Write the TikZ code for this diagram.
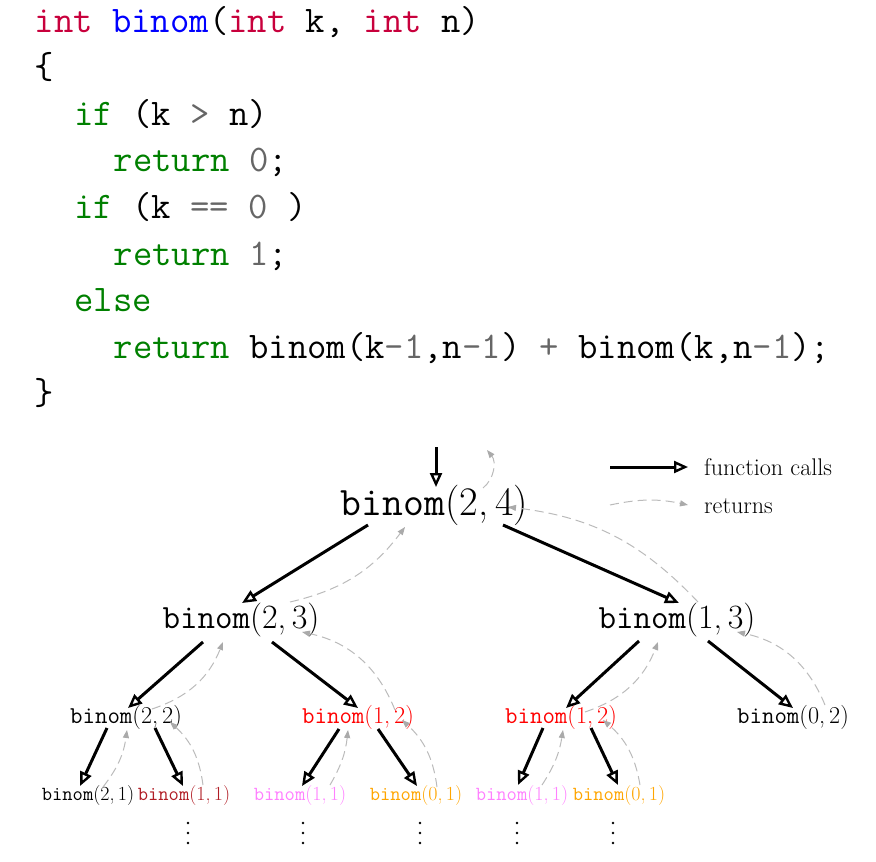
\documentclass[tikz,border=0pt]{standalone}
\usetikzlibrary{arrows.meta,calc}
\definecolor{kwint}{HTML}{C8003C}
\definecolor{kwfun}{HTML}{0000FF}
\definecolor{kwgreen}{HTML}{008000}
\definecolor{numgray}{HTML}{666666}
\definecolor{rdark}{HTML}{B01C24}
\definecolor{rred}{HTML}{FF0000}
\definecolor{rpink}{HTML}{FF80FF}
\definecolor{rorange}{HTML}{FFA500}
\definecolor{retgray}{HTML}{BBBBBB}
\definecolor{rettip}{HTML}{AAAAAA}
\newcommand\bn[2]{\texttt{binom}\textrm{(#1,\,#2)}}
\newcommand\gr[1]{\textcolor{numgray}{#1}}
\newcommand\kw[1]{\textcolor{kwgreen}{#1}}
\newcommand\ki[1]{\textcolor{kwint}{#1}}
\begin{document}
\begin{tikzpicture}[x=1pt,y=-1pt,
  code/.style={anchor=base west, inner sep=0pt, font=\fontsize{37.6}{45}\selectfont\ttfamily},
  lzero/.style={anchor=base, inner sep=0pt, font=\fontsize{40.5}{48}\selectfont},
  lone/.style={anchor=base, inner sep=0pt, font=\fontsize{34}{40}\selectfont},
  ltwo/.style={anchor=base, inner sep=0pt, font=\fontsize{24.2}{29}\selectfont},
  lthree/.style={anchor=base, inner sep=0pt, font=\fontsize{20}{24}\selectfont},
  legend/.style={anchor=base west, inner sep=0pt, font=\fontsize{24.1}{29}\selectfont},
  call/.style={line width=3pt, -{Triangle[open, length=14pt, width=12pt, line width=2.4pt]}},
  ret/.style={retgray, line width=1pt, dash pattern=on 9pt off 5pt, -{Triangle[length=8pt, width=6pt, fill=rettip, color=rettip]}},
  vdot/.style={fill=black}
]
\useasboundingbox (0,0) rectangle (876,862);

% code
\node[code] (c1) at (34.6,32) {\ki{int} \textcolor{kwfun}{binom}(\ki{int} k, \ki{int} n)};
\node[code] (c2) at (34.6,78.6) {\{};
\node[code] (c3) at (74.1,125.2) {\kw{if} (k \gr{>} n)};
\node[code] (c4) at (113.6,171.8) {\kw{return} \gr{0};};
\node[code] (c5) at (74.1,218.4) {\kw{if} (k \gr{==} \gr{0} )};
\node[code] (c6) at (113.6,265) {\kw{return} \gr{1};};
\node[code] (c7) at (74.1,311.6) {\kw{else}};
\node[code] (c8) at (113.6,358.2) {\kw{return} binom(k\gr{-1},n\gr{-1}) \gr{+} binom(k,n\gr{-1});};
\node[code] (c9) at (34.6,404.8) {\}};

% tree nodes
\node[lzero] (r) at (434.5,515) {\bn{2}{4}};
\node[lone] (a) at (241,628) {\bn{2}{3}};
\node[lone] (b) at (677,628) {\bn{1}{3}};
\node[ltwo] (aa) at (126,723) {\bn{2}{2}};
\node[ltwo, text=rred] (ab) at (358,723) {\bn{1}{2}};
\node[ltwo, text=rred] (ba) at (561,723) {\bn{1}{2}};
\node[ltwo] (bb) at (793,723) {\bn{0}{2}};
\node[lthree] (aaa) at (88,800) {\bn{2}{1}};
\node[lthree, text=rdark] (aab) at (184,800) {\bn{1}{1}};
\node[lthree, text=rpink] (aba) at (300,800) {\bn{1}{1}};
\node[lthree, text=rorange] (abb) at (416,800) {\bn{0}{1}};
\node[lthree, text=rpink] (baa) at (522,800) {\bn{1}{1}};
\node[lthree, text=rorange] (bab) at (619,800) {\bn{0}{1}};

% vertical dots (continuation)
\foreach \x in {188,303,420,517,613}{
  \foreach \y in {823,833,843}{
    \fill[vdot] (\x,\y) circle (1.4);
  }
}

% legend
\node[legend] (fc) at (704,475) {function calls};
\node[legend] (rt) at (704,513) {returns};
\coordinate (lc) at (610,467);
\coordinate (lr) at (610,505);
\draw[call] (lc) -- ($(fc.base west)+(-16,-8)$);
\draw[ret] (lr) to[bend left=12] ($(rt.base west)+(-16,-8)$);

% entry / exit
\coordinate (in) at (436,447);
\coordinate (out) at (487,450);
\draw[call] (in) -- ($(r.base)+(1.5,-28)$);
\draw[ret] ($(r.base)+(48.5,-27)$) to[bend right=45] (out);

% calls
\draw[call] ($(r.base)+(-66.5,10)$) -- ($(a.base)+(1,-25)$);
\draw[call] ($(r.base)+(68.5,10)$) -- ($(b.base)+(2,-25)$);
\draw[call] ($(a.base)+(-38,14)$) -- ($(aa.base)+(2,-15)$);
\draw[call] ($(a.base)+(31,14)$) -- ($(ab.base)+(0,-15)$);
\draw[call] ($(b.base)+(-38,13)$) -- ($(ba.base)+(5,-15)$);
\draw[call] ($(b.base)+(31,13)$) -- ($(bb.base)+(0,-15)$);
\draw[call] ($(aa.base)+(-19,5)$) -- ($(aaa.base)+(-8,-14)$);
\draw[call] ($(aa.base)+(29,5)$) -- ($(aab.base)+(-1,-14)$);
\draw[call] ($(ab.base)+(-19,6)$) -- ($(aba.base)+(2,-14)$);
\draw[call] ($(ab.base)+(20,6)$) -- ($(abb.base)+(1,-14)$);
\draw[call] ($(ba.base)+(-18,5)$) -- ($(baa.base)+(-4,-15)$);
\draw[call] ($(ba.base)+(30,5)$) -- ($(bab.base)+(-1,-15)$);

% returns
\draw[ret] ($(a.base)+(49,-26)$) to[bend right=20] ($(r.base)+(-29.5,12)$);
\draw[ret] ($(b.base)+(21,-26)$) to[bend right=20] ($(r.base)+(73.5,-8)$);
\draw[ret] ($(aa.base)+(26,-14)$) to[bend right=25] ($(a.base)+(-18,14)$);
\draw[ret] ($(ab.base)+(37,-13)$) to[bend right=28] ($(a.base)+(61,4)$);
\draw[ret] ($(ba.base)+(24,-11)$) to[bend right=25] ($(b.base)+(-19,14)$);
\draw[ret] ($(bb.base)+(32,-18)$) to[bend right=28] ($(b.base)+(60,4)$);
\draw[ret] ($(aaa.base)+(15,-13)$) to[bend right=15] ($(aa.base)+(1,7)$);
\draw[ret] ($(aab.base)+(19,-15)$) to[bend right=20] ($(aa.base)+(44,-1)$);
\draw[ret] ($(aba.base)+(30,-15)$) to[bend right=12] ($(ab.base)+(-10,7)$);
\draw[ret] ($(abb.base)+(21,-13)$) to[bend right=20] ($(ab.base)+(44,-3)$);
\draw[ret] ($(baa.base)+(20,-15)$) to[bend right=12] ($(ba.base)+(2,7)$);
\draw[ret] ($(bab.base)+(21,-15)$) to[bend right=20] ($(ba.base)+(42,-3)$);
\end{tikzpicture}
\end{document}
